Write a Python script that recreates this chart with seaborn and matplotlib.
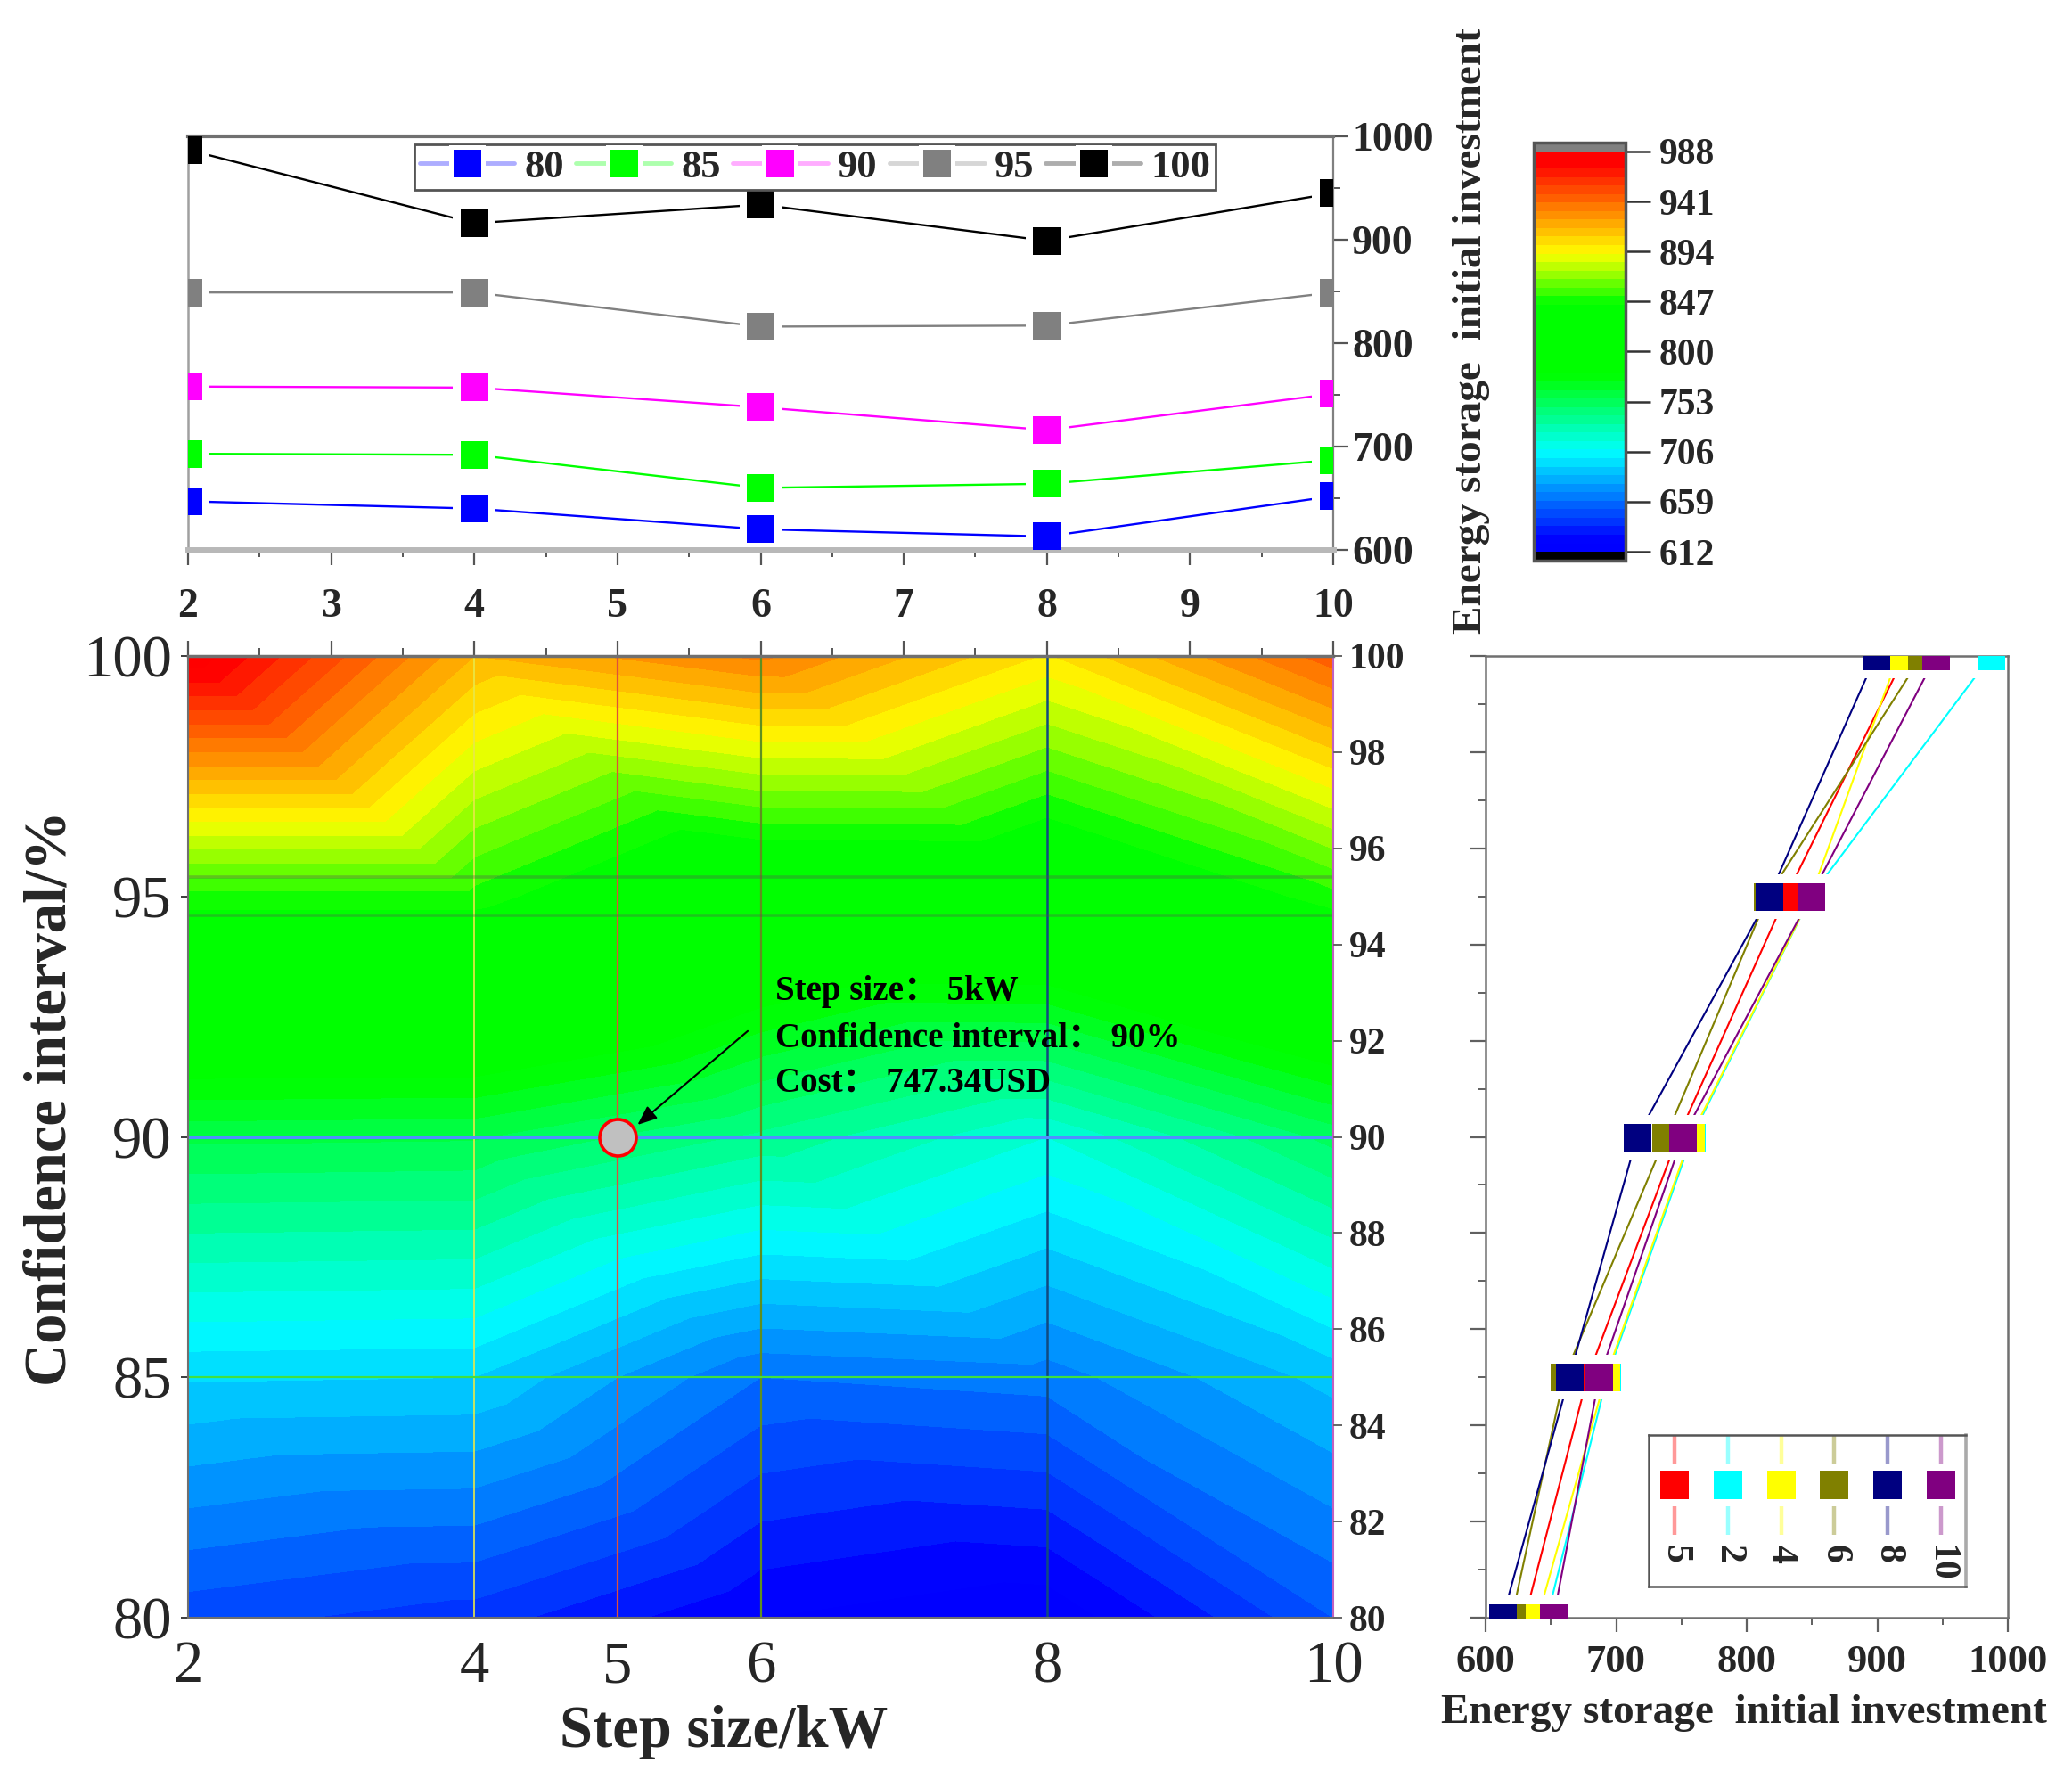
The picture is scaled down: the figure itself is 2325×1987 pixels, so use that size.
import numpy as np
import pandas as pd
import matplotlib
matplotlib.use("Agg")
import matplotlib.pyplot as plt
from matplotlib.colors import LinearSegmentedColormap
from matplotlib.lines import Line2D
from matplotlib.ticker import MultipleLocator
from matplotlib.tri import Triangulation
import seaborn as sns

# values
conf_levels = [80, 85, 90, 95, 100]
steps_all = [2, 4, 5, 6, 8, 10]
steps_top = [2, 4, 6, 8, 10]

cost_step2 = [647, 693, 758, 849, 987]
cost_step4 = [640, 692, 757, 849, 916]
cost_step5 = [630, 678, 747.34, 830, 921]
cost_step6 = [620, 660, 738, 816, 934]
cost_step8 = [613, 664, 716, 817, 899]
cost_step10 = [652, 687, 751, 849, 945]

cbar_ticks = [612, 659, 706, 753, 800, 847, 894, 941, 988]
top_colors = ["#0000ff", "#00ff00", "#ff00ff", "#808080", "#000000"]
side_order = [5, 2, 4, 6, 8, 10]
side_colors = ["#ff0000", "#00ffff", "#ffff00", "#808000", "#000080", "#800080"]

W, H = 2325, 1987
SERIF = ["Liberation Serif", "Noto Sans CJK SC"]

sns.set_theme(style="white")
plt.rcParams["font.family"] = SERIF
plt.rcParams["font.weight"] = "bold"
plt.rcParams["axes.unicode_minus"] = False


def px_axes(fig, x0, y0, x1, y1):
    """axes from pixel box, y measured from the top"""
    return fig.add_axes([x0 / W, 1 - y1 / H, (x1 - x0) / W, (y1 - y0) / H])


def px(n):
    return n * 0.72


by_step = {2: cost_step2, 4: cost_step4, 5: cost_step5, 6: cost_step6, 8: cost_step8, 10: cost_step10}
df = pd.DataFrame(
    [(s, c, by_step[s][i]) for s in steps_all for i, c in enumerate(conf_levels)],
    columns=["step", "conf", "cost"],
)

cmap = LinearSegmentedColormap.from_list(
    "origin",
    [(0.0, "#0000ff"), (0.03, "#0000ff"), (0.25, "#00ffff"), (0.44, "#00ff00"), (0.62, "#00ff00"),
     (0.745, "#ffff00"), (0.97, "#ff0000"), (1.0, "#ff0000")],
    N=256,
)
cmap.set_over("#808080")
cmap.set_under("#000000")
levels = np.linspace(612, 988, 48)

fig = plt.figure(figsize=(W / 100, H / 100), dpi=100, facecolor="white")
ax_top = px_axes(fig, 211, 153, 1496, 617)
ax_main = px_axes(fig, 211, 736, 1496, 1815)
ax_side = px_axes(fig, 1667, 736, 2253, 1815)
cax = px_axes(fig, 1721, 160, 1824, 629)

# ---- contour map, on the 2/4/6/8/10 grid with every cell split upper left to lower right
map_df = df[df["step"].isin(steps_top)].sort_values(["step", "conf"])
nx, ny = len(steps_top), len(conf_levels)
tris = []
for i in range(nx - 1):
    for j in range(ny - 1):
        a, b = i * ny + j, (i + 1) * ny + j
        c, d = i * ny + j + 1, (i + 1) * ny + j + 1
        tris += [(a, b, c), (b, d, c)]
tri = Triangulation(map_df["step"].to_numpy(float), map_df["conf"].to_numpy(float), np.array(tris))
cf = ax_main.tricontourf(tri, map_df["cost"].to_numpy(), levels=levels, cmap=cmap, extend="both")
ax_main.set_xlim(2, 10)
ax_main.set_ylim(80, 100)
for s, c, lw in [(4, "#e8e84a", 1.2), (5, "#e0503a", 1.6), (6, "#5f8f20", 1.6), (8, "#104a80", 1.8)]:
    ax_main.axvline(s, color=c, lw=lw)
ax_main.axhline(85, color="#40e040", lw=1.6)
ax_main.axhline(90, color="#5090ff", lw=2.2)
for off in (0.4, -0.4):
    ax_main.axhline(95 + off, color="#555555", lw=2.6 if off > 0 else 1.8, alpha=0.35)

sns.scatterplot(x=[steps_all[2]], y=[conf_levels[2]], ax=ax_main, s=px(41) ** 2, color="#c0c0c0",
                edgecolor="#ff0000", linewidth=2.6, zorder=6, legend=False, clip_on=False)

ax_main.set_xticks(range(2, 11))
ax_main.set_xticklabels(["2", "", "4", "5", "6", "", "8", "", "10"])
ax_main.set_yticks(conf_levels)
ax_main.xaxis.set_minor_locator(MultipleLocator(0.5))
ax_main.tick_params(axis="x", which="major", bottom=False, top=True, length=px(17), width=1.6, color="#555555",
                    labelsize=48, pad=px(8))
ax_main.tick_params(axis="x", which="minor", bottom=False, top=True, length=px(9), width=1.4, color="#555555")
ax_main.tick_params(axis="y", left=False, labelsize=48, pad=px(10))
for lab in ax_main.get_xticklabels() + ax_main.get_yticklabels():
    lab.set_fontweight("normal")
ax_main.set_xlabel("Step size/kW", fontsize=48, fontweight="bold", va="center")
ax_main.xaxis.set_label_coords(0.468, -0.119)
ax_main.set_ylabel("Confidence interval/%", fontsize=48, fontweight="bold", va="center")
ax_main.yaxis.set_label_coords(-0.12, 0.54)
for sp in ax_main.spines.values():
    sp.set_color("#707070")
    sp.set_linewidth(1.5)
ax_main.spines["top"].set_linewidth(2.5)
ax_main.spines["right"].set_color("#c060c0")

ax_right = ax_main.twinx()
ax_right.set_ylim(80, 100)
ax_right.set_yticks(range(80, 101, 2))
ax_right.yaxis.set_minor_locator(MultipleLocator(1))
ax_right.tick_params(axis="y", which="major", right=True, length=px(10), width=1.4, color="#666666",
                     labelsize=30, pad=px(8))
ax_right.tick_params(axis="y", which="minor", right=False)
ax_right.grid(False)
for sp in ax_right.spines.values():
    sp.set_visible(False)

ax_main.annotate("", xy=(5.14, 90.25), xytext=(5.91, 92.2),
                 arrowprops=dict(arrowstyle="-|>,head_length=1.1,head_width=0.45", color="black", lw=1.5,
                                 shrinkA=0, shrinkB=0), zorder=7)
for yy, txt in zip([93.03, 92.05, 91.12],
                   ["Step size： 5kW", "Confidence interval： 90%", "Cost： 747.34USD"]):
    ax_main.text(6.1, yy, txt, fontsize=28, fontweight="bold", va="center", ha="left", color="black", zorder=7)

# ---- top panel
top_df = df[df["step"].isin(steps_top)]
pal_top = dict(zip(conf_levels, top_colors))
sns.lineplot(data=top_df, x="step", y="cost", hue="conf", palette=pal_top, lw=1.7, legend=False, ax=ax_top,
             errorbar=None)
sns.scatterplot(data=top_df, x="step", y="cost", color="white", marker="s", s=px(48) ** 2, linewidth=0,
                legend=False, ax=ax_top, zorder=2.2)
sns.scatterplot(data=top_df, x="step", y="cost", hue="conf", palette=pal_top, marker="s", s=px(31) ** 2,
                linewidth=0, legend=False, ax=ax_top, zorder=4)
ax_top.set_xlim(2, 10)
ax_top.set_ylim(600, 1000)
ax_top.set_xlabel("")
ax_top.set_ylabel("")
ax_top.set_xticks(range(2, 11))
ax_top.xaxis.set_minor_locator(MultipleLocator(0.5))
ax_top.yaxis.tick_right()
ax_top.set_yticks(range(600, 1001, 100))
ax_top.yaxis.set_minor_locator(MultipleLocator(50))
ax_top.tick_params(axis="x", which="major", bottom=True, length=px(17), width=1.6, color="#555555",
                   labelsize=33, pad=px(26))
ax_top.tick_params(axis="x", which="minor", bottom=True, length=px(8), width=1.4, color="#555555")
ax_top.tick_params(axis="y", which="major", right=True, length=px(17), width=1.6, color="#555555",
                   labelsize=33, pad=px(4))
ax_top.tick_params(axis="y", which="minor", right=True, length=px(8), width=1.4, color="#555555")
ax_top.spines["top"].set_color("#707070")
ax_top.spines["top"].set_linewidth(3)
ax_top.spines["bottom"].set_color("#b8b8b8")
ax_top.spines["bottom"].set_linewidth(5)
ax_top.spines["left"].set_color("#a0a0a0")
ax_top.spines["left"].set_linewidth(1.8)
ax_top.spines["right"].set_color("#808080")
ax_top.spines["right"].set_linewidth(1.6)

handles = [
    Line2D([], [], color=matplotlib.colors.to_rgba(c, 0.32), lw=3.5, marker="s", ms=px(36), mfc=c, mec="white",
           mew=px(5), label=str(lab))
    for c, lab in zip(top_colors, conf_levels)
]
leg = ax_top.legend(handles=handles, ncol=5, loc="upper left", bbox_to_anchor=(0.198, 0.98), borderaxespad=0,
                    fontsize=32, frameon=True, fancybox=False, edgecolor="#555555", framealpha=1,
                    handlelength=2.4, handletextpad=0.25, columnspacing=0.3, borderpad=0.12)
leg.get_frame().set_linewidth(2)
leg.set_zorder(8)

fig.text(1651 / W, 1 - 371 / H, "Energy storage  initial investment", rotation=90, fontsize=34, fontweight="bold",
         ha="center", va="center")

# ---- colorbar
cb = fig.colorbar(cf, cax=cax, extend="both", extendrect=True, extendfrac=0.022, drawedges=False)
cb.set_ticks(cbar_ticks)
cb.ax.tick_params(length=px(28), width=1.8, color="#333333", labelsize=30, pad=px(10))
cb.ax.minorticks_off()
cb.outline.set_edgecolor("#555555")
cb.outline.set_linewidth(2.5)

# ---- side panel
side_df = df[df["step"].isin(side_order)]
pal_side = dict(zip(side_order, side_colors))
for s in side_order:
    part = side_df[side_df["step"] == s]
    sns.lineplot(data=part, x="cost", y="conf", color=pal_side[s], lw=1.5, orient="y", errorbar=None, ax=ax_side)
sns.scatterplot(data=side_df, x="cost", y="conf", color="white", marker="s", s=px(50) ** 2, linewidth=0,
                legend=False, ax=ax_side, zorder=2.2)
for s in side_order:
    part = side_df[side_df["step"] == s]
    sns.scatterplot(data=part, x="cost", y="conf", color=pal_side[s], marker="s", s=px(31) ** 2, linewidth=0,
                    legend=False, ax=ax_side, zorder=4)
ax_side.set_xlim(600, 1000)
ax_side.set_ylim(80, 100)
ax_side.set_xlabel("")
ax_side.set_ylabel("")
ax_side.set_xticks(range(600, 1001, 100))
ax_side.xaxis.set_minor_locator(MultipleLocator(50))
ax_side.set_yticks(range(80, 101, 2))
ax_side.set_yticklabels([])
ax_side.yaxis.set_minor_locator(MultipleLocator(1))
ax_side.tick_params(axis="x", which="major", bottom=True, length=px(16), width=1.6, color="#606060",
                    labelsize=32, pad=px(14))
ax_side.tick_params(axis="x", which="minor", bottom=True, length=px(8), width=1.4, color="#606060")
ax_side.tick_params(axis="y", which="major", left=True, length=px(17), width=1.6, color="#606060")
ax_side.tick_params(axis="y", which="minor", left=True, length=px(9), width=1.4, color="#606060")
for sp in ax_side.spines.values():
    sp.set_color("#707070")
    sp.set_linewidth(1.8)
fig.text(1957 / W, 1 - 1922 / H, "Energy storage  initial investment", fontsize=34, fontweight="bold",
         ha="center", va="center")

# vertical legend of the side panel, in its own transparent axes
ax_key = px_axes(fig, 1850, 1610, 2206, 1780)
ax_key.set_xlim(1850, 2206)
ax_key.set_ylim(1780, 1610)
ax_key.set_xticks([])
ax_key.set_yticks([])
ax_key.grid(False)
ax_key.set_facecolor("white")
for sp in ax_key.spines.values():
    sp.set_color("#555555")
    sp.set_linewidth(1.8)
ax_key.spines["right"].set_color("#aaaaaa")
ax_key.spines["right"].set_linewidth(2.6)
key_x = np.linspace(1879, 2178, len(side_order))
for xk, s, c in zip(key_x, side_order, side_colors):
    ax_key.plot([xk, xk], [1610, 1722], color=c, alpha=0.4, lw=3.2, solid_capstyle="butt")
    ax_key.plot([xk], [1666], marker="s", ms=px(48), mfc="white", mec="white", mew=0)
    ax_key.plot([xk], [1666], marker="s", ms=px(32), mfc=c, mec=c, mew=0)
    ax_key.text(xk, 1733, str(s), rotation=270, fontsize=30, fontweight="bold", ha="center", va="top")

fig.savefig("out.png", dpi=100, facecolor="white")
